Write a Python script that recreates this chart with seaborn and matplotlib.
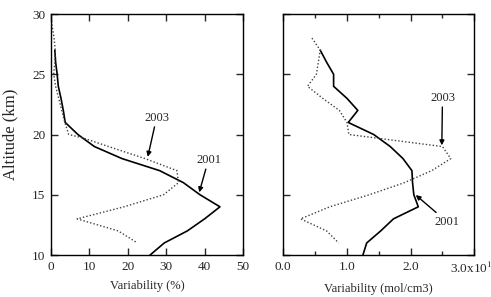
import numpy as np
import pandas as pd
import matplotlib
matplotlib.use('Agg')
import matplotlib.pyplot as plt
from matplotlib.ticker import MultipleLocator
import seaborn as sns

# ---- data ----
alt_2001_pct = [27, 26, 25, 24, 23, 22, 21, 20, 19, 18, 17, 16, 15, 14, 13, 12, 11, 10]
var_2001_pct = [1.0, 1.2, 1.6, 1.9, 2.6, 3.2, 3.7, 7.0, 11.3, 18.5, 28.3, 34.5, 38.8, 44.0, 40.0, 35.5, 29.5, 25.8]

alt_2003_pct = [30, 29, 28, 27, 26, 25, 24, 23, 22, 21, 20, 19.7, 19, 18, 17, 16, 15, 14, 13, 12, 11]
var_2003_pct = [0.0, 0.3, 0.8, 1.1, 1.0, 0.7, 1.2, 2.0, 2.8, 3.6, 4.6, 8.5, 15.0, 24.5, 32.8, 33.2, 29.3, 19.0, 6.8, 17.5, 22.5]

alt_2001_mol = [27, 26, 25, 24, 23, 22, 21, 20, 19, 18, 17, 16, 15, 14, 13, 12, 11, 10]
var_2001_mol = [0.58, 0.68, 0.79, 0.79, 1.0, 1.17, 1.02, 1.42, 1.68, 1.88, 2.02, 2.03, 2.05, 2.12, 1.73, 1.53, 1.31, 1.25]

alt_2003_mol = [28, 27, 26, 25, 24, 23, 22, 21, 20, 19, 18, 17, 16, 15, 14, 13, 12, 11]
var_2003_mol = [0.45, 0.58, 0.55, 0.52, 0.38, 0.62, 0.88, 1.0, 1.03, 2.5, 2.63, 2.33, 1.9, 1.35, 0.73, 0.27, 0.68, 0.87]

mol_ticklabels = ['0.0', '1.0', '2.0', '3.0x10$^{12}$']

sns.set_style('ticks')
plt.rcParams['font.family'] = ['Liberation Serif', 'DejaVu Serif']
plt.rcParams['mathtext.fontset'] = 'stix'

fig = plt.figure(figsize=(4.91, 2.97), dpi=100)
ax1 = fig.add_axes([0.1039, 0.1414, 0.391, 0.8114])
ax2 = fig.add_axes([0.577, 0.1414, 0.389, 0.8114])

solid_kw = dict(color='black', linewidth=1.2, sort=False, estimator=None)
dot_kw = dict(color='0.25', linewidth=1.0, linestyle=(0, (1, 1.5)), sort=False, estimator=None)

sns.lineplot(x=var_2001_pct, y=alt_2001_pct, ax=ax1, **solid_kw)
sns.lineplot(x=var_2003_pct, y=alt_2003_pct, ax=ax1, **dot_kw)
sns.lineplot(x=var_2001_mol, y=alt_2001_mol, ax=ax2, **solid_kw)
sns.lineplot(x=var_2003_mol, y=alt_2003_mol, ax=ax2, **dot_kw)

for ax in (ax1, ax2):
    ax.set_ylim(10, 30)
    ax.yaxis.set_major_locator(MultipleLocator(5))
    ax.tick_params(direction='in', top=True, right=True, length=5, width=1, labelsize=9.5, pad=4)
    ax.tick_params(which='minor', direction='in', top=True, right=True, length=3, width=1)
    for s in ax.spines.values():
        s.set_linewidth(1)
        s.set_color('black')

ax1.set_xlim(0, 50)
ax1.xaxis.set_major_locator(MultipleLocator(10))
ax1.set_xlabel('Variability (%)', fontsize=9, labelpad=5)
ax1.set_ylabel('Altitude (km)', fontsize=12, labelpad=10)

ax2.set_xlim(0, 3.0)
ax2.set_xticks([0, 1, 2, 3])
ax2.xaxis.set_minor_locator(MultipleLocator(0.5))
ax2.set_xticklabels(mol_ticklabels)
ax2.set_yticklabels([])
ax2.set_xlabel('Variability (mol/cm3)', fontsize=9, labelpad=5)

arrow = dict(arrowstyle='-|>', color='black', lw=1, mutation_scale=7, shrinkA=0, shrinkB=0)
ax1.annotate('2003', xy=(25.2, 18.15), xytext=(27.5, 21.4), fontsize=9, ha='center', va='center', arrowprops=arrow)
ax1.annotate('2001', xy=(38.6, 15.2), xytext=(41.0, 17.9), fontsize=9, ha='center', va='center', arrowprops=arrow)
ax2.annotate('2003', xy=(2.49, 19.1), xytext=(2.5, 23.05), fontsize=9, ha='center', va='center', arrowprops=arrow)
ax2.annotate('2001', xy=(2.08, 14.98), xytext=(2.57, 12.76), fontsize=9, ha='center', va='center', arrowprops=arrow)

fig.savefig('out.png', dpi=100)
